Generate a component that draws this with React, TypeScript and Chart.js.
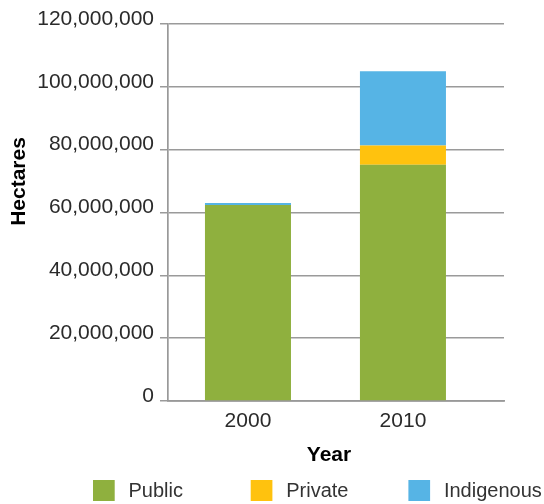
import React, { useEffect, useRef } from "react";
import { Chart, registerables } from "chart.js";

Chart.register(...registerables);

const years = ["2000", "2010"];
const seriesNames = ["Public", "Private", "Indigenous"];
const publicHa = [62400000, 75200000];
const privateHa = [0, 6100000];
const indigenousHa = [600000, 23700000];
const seriesColors = ["#8FB03E", "#FFC20E", "#56B4E5"];
const yMax = 120000000;
const yStep = 20000000;
const yTitle = "Hectares";
const xTitle = "Year";

const X_MIN = -0.516;
const X_MAX = 1.652;

const FONT = "'Liberation Sans', Arial, Helvetica, sans-serif";

const overlayPlugin = {
  id: "overlayTexts",
  afterDraw(chart: any) {
    const ctx = chart.ctx as CanvasRenderingContext2D;
    ctx.save();
    ctx.fillStyle = "#000";
    ctx.font = `bold 21px ${FONT}`;
    ctx.textAlign = "center";
    ctx.textBaseline = "middle";
    ctx.fillText(xTitle, 329, 455);
    ctx.translate(19, 181.5);
    ctx.rotate(-Math.PI / 2);
    ctx.fillText(yTitle, 0, 0);
    ctx.restore();

    ctx.save();
    ctx.font = `20px ${FONT}`;
    ctx.textAlign = "left";
    ctx.textBaseline = "middle";
    chart.data.datasets.forEach((ds: any, i: number) => {
      const x0 = 93 + i * 157.7;
      ctx.fillStyle = ds.backgroundColor;
      ctx.fillRect(x0, 480, 21.7, 21);
      ctx.fillStyle = "#333";
      ctx.fillText(ds.label, x0 + 35.5, 491);
    });
    ctx.restore();
  },
};

export default function App() {
  const ref = useRef<HTMLCanvasElement | null>(null);

  useEffect(() => {
    if (!ref.current) return;
    const values = [publicHa, privateHa, indigenousHa];
    const chart = new Chart(ref.current, {
      type: "bar",
      data: {
        datasets: seriesNames.map((name, s) => ({
          label: name,
          data: years.map((_, i) => ({ x: i, y: values[s][i] })),
          backgroundColor: seriesColors[s],
          borderWidth: 0,
          barPercentage: 0.555,
          categoryPercentage: 1,
        })),
      },
      options: {
        animation: false,
        responsive: true,
        maintainAspectRatio: false,
        layout: { padding: { top: 24, right: 40, bottom: 0, left: 0 } },
        plugins: {
          legend: { display: false },
          tooltip: { enabled: false },
        },
        scales: {
          x: {
            type: "linear",
            min: X_MIN,
            max: X_MAX,
            offset: false,
            bounds: "data",
            stacked: true,
            grid: { display: false, offset: false },
            border: { display: true, color: "#999", width: 1.7 },
            afterBuildTicks: (scale: any) => {
              scale.ticks = years.map((_, i) => ({ value: i }));
              scale.min = X_MIN;
              scale.max = X_MAX;
            },
            afterFit: (scale: any) => {
              scale.height = 103;
            },
            ticks: {
              autoSkip: false,
              maxRotation: 0,
              padding: 0,
              color: "#2a2a2a",
              font: { family: FONT, size: 21 },
              callback: (v: any) => years[Math.round(Number(v))] ?? "",
            },
          },
          y: {
            min: 0,
            max: yMax,
            stacked: true,
            grid: { color: "#9a9a9a", lineWidth: 1.5, tickLength: 8, drawTicks: true },
            border: { display: true, color: "#999", width: 1.7 },
            afterFit: (scale: any) => {
              scale.width = 168;
            },
            ticks: {
              stepSize: yStep,
              padding: 6,
              labelOffset: -5,
              color: "#2a2a2a",
              font: { family: FONT, size: 21 },
              callback: (v: any) => Number(v).toLocaleString("en-US"),
            },
          },
        },
      },
      plugins: [overlayPlugin],
    });
    return () => chart.destroy();
  }, []);

  return (
    <div style={{ position: "fixed", left: 0, top: 0, width: 544, height: 504, background: "#fff" }}>
      <canvas ref={ref} />
    </div>
  );
}
